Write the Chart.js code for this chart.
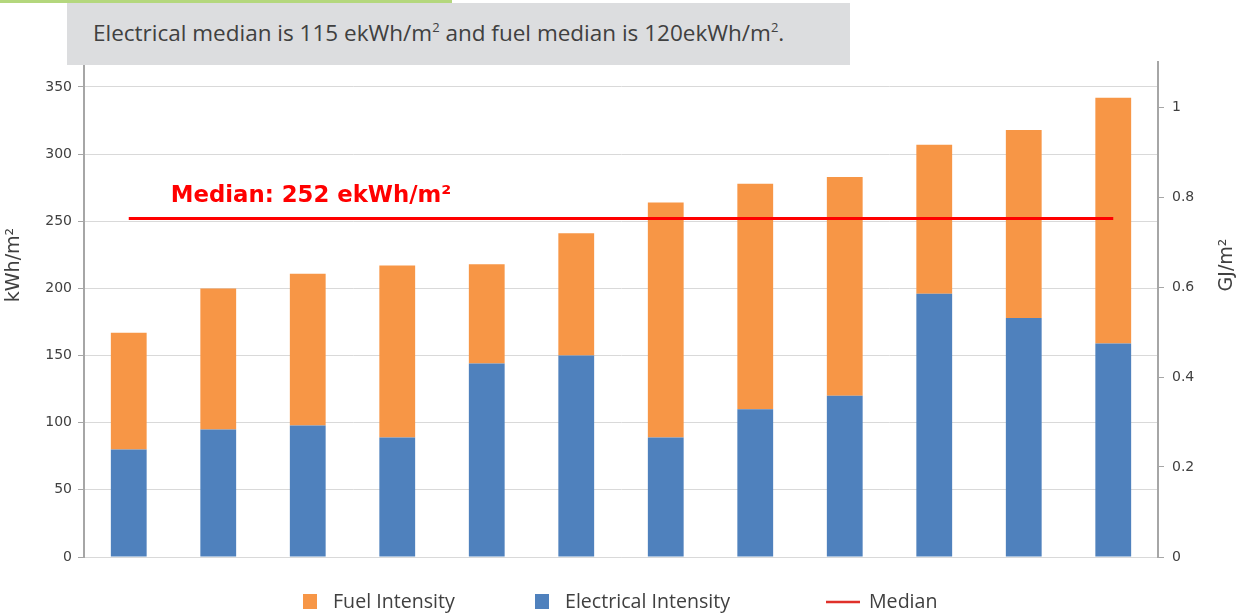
<!DOCTYPE html>
<html>
<head>
<meta charset="utf-8">
<script src="https://cdn.jsdelivr.net/npm/chart.js@4"></script>
<style>
  html, body { margin: 0; padding: 0; background: #fff; }
  #wrap { position: relative; width: 1238px; height: 615px; overflow: hidden; }
  #greenBar { position: absolute; left: 0; top: 0; width: 452px; height: 3px; background: #b4d77d; z-index: 2; }
  #note {
    position: absolute; left: 67px; top: 3px; width: 783px; height: 62px; z-index: 2;
    background: #dcdddf; color: #404040; box-sizing: border-box; padding-left: 26px;
    font-family: 'Open Sans', sans-serif; font-size: 22.5px; line-height: 60px; white-space: nowrap;
  }
  #note sup { font-size: 13px; line-height: 0; vertical-align: 9px; }
  canvas { position: absolute; left: 0; top: 0; }
</style>
</head>
<body>
<div id="wrap">
  <div id="greenBar"></div>
  <div id="note">Electrical median is 115 ekWh/m<sup>2</sup> and fuel median is 120ekWh/m<sup>2</sup>.</div>
  <canvas id="chart" width="1238" height="615"></canvas>
</div>
<script>
// data (kWh/m2)
const categories = ['1', '2', '3', '4', '5', '6', '7', '8', '9', '10', '11', '12'];
const electrical = [80, 95, 98, 89, 144, 150, 89, 110, 120, 196, 178, 159];
const fuel = [87, 105, 113, 128, 74, 91, 175, 168, 163, 111, 140, 183];
const median = 252;
const medianLine = categories.map(() => median);
const leftTicks = [0, 50, 100, 150, 200, 250, 300, 350];
const rightTicks = [0, 0.2, 0.4, 0.6, 0.8, 1];

const tickFont = { family: 'DejaVu Sans', size: 14 };

// text drawn on the canvas: median label, axis titles, legend
const extras = {
  id: 'extras',
  afterDatasetsDraw(chart) {
    const { ctx, scales } = chart;
    const y = scales.y.getPixelForValue(median);
    const x0 = scales.x.getPixelForValue(0);
    ctx.save();
    ctx.fillStyle = '#ff0000';
    ctx.font = 'bold 22.8px "DejaVu Sans"';
    ctx.textBaseline = 'alphabetic';
    ctx.fillText('Median: 252 ekWh/m²', x0 + 42, y - 17);
    ctx.restore();
  },
  afterDraw(chart) {
    const { ctx } = chart;
    ctx.save();
    ctx.fillStyle = '#404040';
    ctx.font = '19px "DejaVu Sans"';
    ctx.textAlign = 'center';
    ctx.textBaseline = 'middle';
    [['kWh/m²', 14], ['GJ/m²', 1227]].forEach(([t, x]) => {
      ctx.save();
      ctx.translate(x, 265);
      ctx.rotate(-Math.PI / 2);
      ctx.fillText(t, 0, 0);
      ctx.restore();
    });

    // legend: Fuel, Electrical, Median
    const ds = chart.data.datasets;
    const items = [[ds[1], 303], [ds[0], 535], [ds[2], 826]];
    const ly = 602;
    ctx.textAlign = 'left';
    ctx.font = '19.6px "Open Sans"';
    items.forEach(([d, x]) => {
      if (d.type === 'line') {
        ctx.strokeStyle = '#e0302a';
        ctx.lineWidth = 2.5;
        ctx.beginPath();
        ctx.moveTo(x, ly);
        ctx.lineTo(x + 34, ly);
        ctx.stroke();
        ctx.fillStyle = '#404040';
        ctx.fillText(d.label, x + 43, ly);
      } else {
        ctx.fillStyle = d.backgroundColor;
        ctx.fillRect(x, ly - 8, 14, 15);
        ctx.fillStyle = '#404040';
        ctx.fillText(d.label, x + 30, ly);
      }
    });
    ctx.restore();
  }
};

new Chart(document.getElementById('chart'), {
  data: {
    labels: categories,
    datasets: [
      { type: 'bar', label: 'Electrical Intensity', data: electrical, backgroundColor: '#4f81bd', stack: 'e', order: 1 },
      { type: 'bar', label: 'Fuel Intensity', data: fuel, backgroundColor: '#f79646', stack: 'e', order: 1 },
      { type: 'line', label: 'Median', data: medianLine, borderColor: '#ff0000', borderWidth: 3,
        pointRadius: 0, stack: 'm', order: 0 }
    ]
  },
  options: {
    responsive: false,
    devicePixelRatio: 1,
    animation: false,
    layout: { padding: { top: 62, bottom: 58, left: 0, right: 0 } },
    datasets: { bar: { categoryPercentage: 1, barPercentage: 0.4 } },
    plugins: { legend: { display: false }, tooltip: { enabled: false } },
    scales: {
      x: {
        stacked: true,
        ticks: { display: false },
        grid: { display: false },
        border: { color: '#d9d9d9', width: 1 },
        afterFit(s) { s.height = 0; }
      },
      y: {
        position: 'left',
        stacked: true,
        min: 0,
        max: 368.6,
        afterBuildTicks(s) { s.ticks = leftTicks.map(v => ({ value: v })); },
        ticks: { font: tickFont, color: '#404040', padding: 6 },
        grid: { color: '#d9d9d9', tickColor: '#a6a6a6', tickLength: 6 },
        border: { color: '#a6a6a6', width: 2 },
        afterFit(s) { s.width = 84; }
      },
      y2: {
        position: 'right',
        min: 0,
        max: 1.1,
        afterBuildTicks(s) { s.ticks = rightTicks.map(v => ({ value: v })); },
        ticks: { font: tickFont, color: '#404040', padding: 8 },
        grid: { drawOnChartArea: false, tickColor: '#a6a6a6', tickLength: 6 },
        border: { color: '#a6a6a6', width: 2 },
        afterFit(s) { s.width = 80; }
      }
    }
  },
  plugins: [extras]
});
</script>
</body>
</html>
